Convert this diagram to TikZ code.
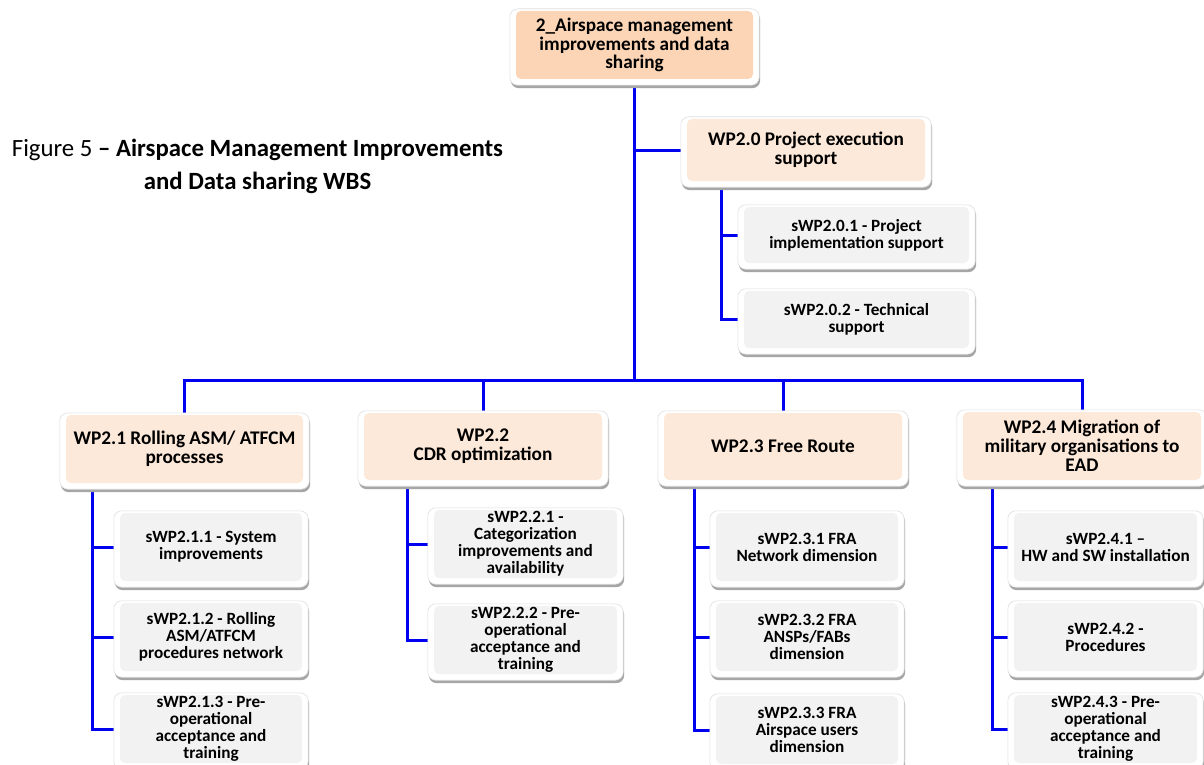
\documentclass[tikz,border=0pt]{standalone}
\usepackage{fontspec}
\setmainfont{Carlito}
\usetikzlibrary{calc}
\pgfdeclarelayer{bg}
\pgfdeclarelayer{frame}
\pgfsetlayers{bg,frame,main}
\definecolor{topfill}{HTML}{FBD5B5}
\definecolor{wpfill}{HTML}{FDE9D9}
\definecolor{subfill}{HTML}{F2F2F2}
\definecolor{conncol}{HTML}{0000F0}
\definecolor{shadowcol}{HTML}{A6A6A6}
\newcommand\ftop{\fontsize{19.2}{18.3}\selectfont\bfseries}
\newcommand\fwp{\fontsize{19.3}{19}\selectfont\bfseries}
\newcommand\fsub{\fontsize{17.2}{17}\selectfont\bfseries}
\tikzset{
  conn/.style={draw=conncol, line width=3pt},
  boxbase/.style={rounded corners=5pt, inner sep=0pt, align=center, text=black},
  topbox/.style={boxbase, fill=topfill, font=\ftop},
  wpbox/.style={boxbase, fill=wpfill, font=\fwp},
  subbox/.style={boxbase, fill=subfill, font=\fsub},
  framebox/.style={fill=white, draw=gray!25, line width=0.6pt, rounded corners=8pt},
  shadowbox/.style={fill=shadowcol, rounded corners=8pt},
}
% #1 name, #2 x1, #3 y1, #4 x2, #5 y2, #6 style, #7 text
\newcommand\wbsbox[7]{%
  \node[#6, minimum width={#4-#2}, minimum height={#5-#3}] (#1) at ({(#2+#4)/2},{(#3+#5)/2}) {#7};
  \begin{pgfonlayer}{frame}
    \path[shadowbox] ($(#1.north west)+(-5,1)$) rectangle ($(#1.south east)+(7,9)$);
    \path[framebox] ($(#1.north west)+(-6,-2)$) rectangle ($(#1.south east)+(6,6)$);
  \end{pgfonlayer}
}
\begin{document}
\begin{tikzpicture}[x=1pt, y=-1pt]
  \begin{pgfonlayer}{bg}
    \fill[white] (0,0) rectangle (1204,765);
  \end{pgfonlayer}
  \useasboundingbox (0,0) rectangle (1204,765);

  % caption
  \node[font=\fontsize{24.8}{33}\selectfont, align=center] (cap) at (257.5,166)
    {Figure 5 \textbf{– Airspace Management Improvements}\\\textbf{and Data sharing WBS}};

  % boxes
  \wbsbox{top}{516}{11}{753}{79}{topbox}{2\_Airspace management\\improvements and data\\sharing}
  \wbsbox{wp20}{687}{119}{925}{181}{wpbox}{WP2.0 Project execution\\support}
  \wbsbox{s201}{744}{207}{969}{263}{subbox}{sWP2.0.1 - Project\\implementation support}
  \wbsbox{s202}{744}{291}{969}{348}{subbox}{sWP2.0.2 - Technical\\support}

  \wbsbox{wp21}{66}{415}{303}{483}{wpbox}{WP2.1 Rolling ASM/ ATFCM\\processes}
  \wbsbox{s211}{120}{513}{302}{581}{subbox}{sWP2.1.1 - System\\improvements}
  \wbsbox{s212}{120}{603}{302}{671}{subbox}{sWP2.1.2 - Rolling\\ASM/ATFCM\\procedures network}
  \wbsbox{s213}{120}{695}{302}{763}{subbox}{sWP2.1.3 - Pre-\\operational\\acceptance and\\training}

  \wbsbox{wp22}{364}{413}{602}{480}{wpbox}{WP2.2\\CDR optimization}
  \wbsbox{s221}{434}{510}{617}{578}{subbox}{sWP2.2.1 -\\Categorization\\improvements and\\availability}
  \wbsbox{s222}{434}{606}{617}{674}{subbox}{sWP2.2.2 - Pre-\\operational\\acceptance and\\training}

  \wbsbox{wp23}{664}{413}{902}{480}{wpbox}{WP2.3 Free Route}
  \wbsbox{s231}{716}{513}{898}{581}{subbox}{sWP2.3.1 FRA\\Network dimension}
  \wbsbox{s232}{716}{603}{898}{671}{subbox}{sWP2.3.2 FRA\\ANSPs/FABs\\dimension}
  \wbsbox{s233}{716}{696}{898}{764}{subbox}{sWP2.3.3 FRA\\Airspace users\\dimension}

  \wbsbox{wp24}{963}{412}{1201}{480}{wpbox}{WP2.4 Migration of\\military organisations to\\EAD}
  \wbsbox{s241}{1014}{513}{1197}{581}{subbox}{sWP2.4.1 –\\HW and SW installation}
  \wbsbox{s242}{1014}{603}{1197}{671}{subbox}{sWP2.4.2 -\\Procedures}
  \wbsbox{s243}{1014}{695}{1197}{763}{subbox}{sWP2.4.3 - Pre-\\operational\\acceptance and\\training}

  % connectors
  \begin{pgfonlayer}{bg}
    \coordinate (bus) at (634.5,380);
    \coordinate (v20) at (721,0);
    \coordinate (v21) at (92,0);
    \coordinate (v22) at (407,0);
    \coordinate (v23) at (694,0);
    \coordinate (v24) at (992,0);
    \draw[conn] (top.south) -- (bus);
    \draw[conn] (top.south |- wp20.west) -- (wp20.west);
    \draw[conn] (wp21.north) -- (wp21.north |- bus) -- (wp24.north |- bus) -- (wp24.north);
    \draw[conn] (wp22.north |- bus) -- (wp22.north);
    \draw[conn] (wp23.north |- bus) -- (wp23.north);

    \draw[conn] (wp20.south -| v20) |- (s202.west);
    \draw[conn] (v20 |- s201.west) -- (s201.west);

    \draw[conn] (wp21.south -| v21) |- (s213.west);
    \draw[conn] (v21 |- s211.west) -- (s211.west);
    \draw[conn] (v21 |- s212.west) -- (s212.west);

    \draw[conn] (wp22.south -| v22) |- (s222.west);
    \draw[conn] (v22 |- s221.west) -- (s221.west);

    \draw[conn] (wp23.south -| v23) |- (s233.west);
    \draw[conn] (v23 |- s231.west) -- (s231.west);
    \draw[conn] (v23 |- s232.west) -- (s232.west);

    \draw[conn] (wp24.south -| v24) |- (s243.west);
    \draw[conn] (v24 |- s241.west) -- (s241.west);
    \draw[conn] (v24 |- s242.west) -- (s242.west);
  \end{pgfonlayer}
\end{tikzpicture}
\end{document}
